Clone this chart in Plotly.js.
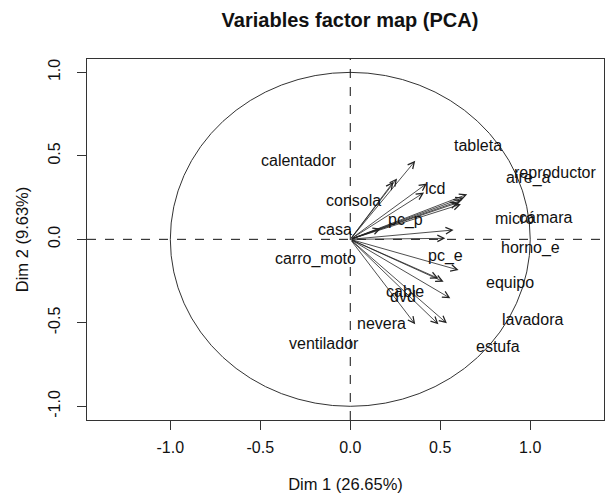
<!DOCTYPE html>
<html>
<head>
<meta charset="utf-8">
<script src="https://cdn.plot.ly/plotly-3.0.1.min.js"></script>
<style>html,body{margin:0;padding:0;background:#fff;}#chart{width:605px;height:493px;}</style>
</head>
<body>
<div id="chart"></div>
<script>
// Variable names
var variables = ["tableta","reproductor","aire_a","micro","cámara","lcd","casa","pc_p","consola","calentador",
                 "carro_moto","horno_e","equipo","pc_e","cable","dvd","ventilador","nevera","lavadora","estufa"];
// Coordinates on Dim 1 / Dim 2 (arrow tips)
var dim1 = [0.65, 0.63, 0.62, 0.60, 0.615, 0.426, 0.17, 0.41, 0.26, 0.361,
            0.24, 0.574, 0.528, 0.602, 0.519, 0.49, 0.556, 0.361, 0.537, 0.49];
var dim2 = [0.27, 0.25, 0.235, 0.22, 0.21, 0.335, 0.065, 0.28, 0.365, 0.47,
            0.345, 0.056, 0.006, -0.184, -0.254, -0.234, -0.353, -0.509, -0.503, -0.509];
// Label positions (as placed in the picture)
var labelX = [0.711, 1.139, 0.989, 0.911, 1.083, 0.472, -0.083, 0.306, 0.017, -0.289,
              -0.194, 1.0, 0.889, 0.528, 0.306, 0.294, -0.144, 0.172, 1.011, 0.822];
var labelY = [0.559, 0.403, 0.367, 0.122, 0.128, 0.307, 0.056, 0.116, 0.235, 0.475,
              -0.118, -0.052, -0.26, -0.1, -0.31, -0.34, -0.626, -0.507, -0.478, -0.639];
var xTicks = [-1.0, -0.5, 0.0, 0.5, 1.0];
var yTicks = [-1.0, -0.5, 0.0, 0.5, 1.0];
var xTitle = "Dim 1 (26.65%)";
var yTitle = "Dim 2 (9.63%)";
var chartTitle = "Variables factor map (PCA)";

var FONT = "Liberation Sans, Arial, sans-serif";
var annotations = [];
for (var i = 0; i < variables.length; i++) {
  annotations.push({
    x: dim1[i], y: dim2[i], xref: 'x', yref: 'y',
    ax: 0, ay: 0, axref: 'x', ayref: 'y',
    text: '', showarrow: true, arrowhead: 5, arrowsize: 1.6, arrowwidth: 0.8,
    arrowcolor: '#222', standoff: 0, startstandoff: 0
  });
}
for (var j = 0; j < variables.length; j++) {
  annotations.push({
    x: labelX[j], y: labelY[j], xref: 'x', yref: 'y',
    text: variables[j], showarrow: false, xanchor: 'center', yanchor: 'middle',
    font: {family: FONT, size: 16, color: '#111'}
  });
}

var layout = {
  width: 605, height: 493,
  margin: {l: 87, r: 1, t: 59, b: 73},
  paper_bgcolor: '#fff', plot_bgcolor: '#fff',
  showlegend: false,
  title: {text: '<b>' + chartTitle + '</b>', x: 0.5785, xanchor: 'center', y: 0.959, yanchor: 'middle',
          font: {family: FONT, size: 20, color: '#111'}},
  xaxis: {
    range: [-1.463, 1.41], tickvals: xTicks, ticktext: xTicks.map(function(v){return v.toFixed(1);}),
    ticks: 'outside', ticklen: 9, tickcolor: '#333', showgrid: false, zeroline: false,
    showline: true, linecolor: '#333', linewidth: 1, mirror: true, ticklabelstandoff: 4,
    tickfont: {family: FONT, size: 16, color: '#111'},
    title: {text: xTitle, font: {family: FONT, size: 16.5, color: '#111'}, standoff: 25}
  },
  yaxis: {
    range: [-1.082, 1.08], tickvals: yTicks, ticktext: yTicks.map(function(v){return v.toFixed(1);}),
    ticks: 'outside', ticklen: 9, tickcolor: '#333', showgrid: false, zeroline: false,
    showline: true, linecolor: '#333', linewidth: 1, mirror: true, tickangle: -90, ticklabelstandoff: 11,
    tickfont: {family: FONT, size: 16, color: '#111'},
    title: {text: yTitle, font: {family: FONT, size: 16.5, color: '#111'}, standoff: 12}
  },
  shapes: [
    {type: 'circle', xref: 'x', yref: 'y', x0: -1, x1: 1, y0: -1, y1: 1, line: {color: '#333', width: 1}},
    {type: 'line', xref: 'paper', yref: 'y', x0: 0, x1: 1, y0: 0, y1: 0, line: {color: '#111', width: 1, dash: 'dash'}},
    {type: 'line', xref: 'x', yref: 'paper', x0: 0, x1: 0, y0: 0, y1: 1, line: {color: '#111', width: 1, dash: 'dash'}}
  ],
  annotations: annotations
};

Plotly.newPlot('chart', [{x: [], y: [], type: 'scatter', mode: 'markers'}], layout, {staticPlot: true, displayModeBar: false});
</script>
</body>
</html>
